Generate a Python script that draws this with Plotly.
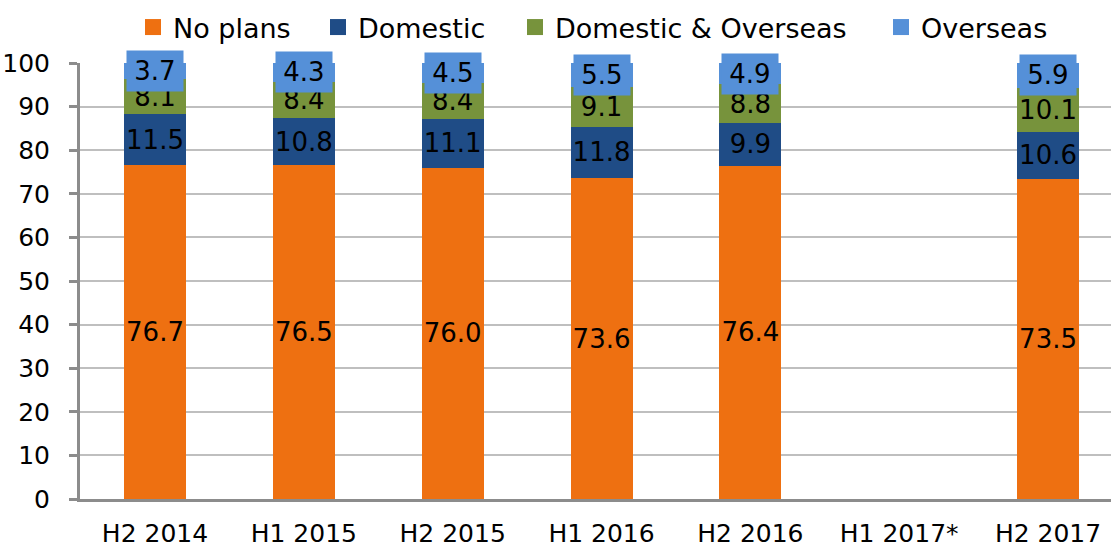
import plotly.graph_objects as go

categories = ["H2 2014", "H1 2015", "H2 2015", "H1 2016", "H2 2016", "H1 2017*", "H2 2017"]
no_plans = [76.7, 76.5, 76.0, 73.6, 76.4, None, 73.5]
domestic = [11.5, 10.8, 11.1, 11.8, 9.9, None, 10.6]
dom_over = [8.1, 8.4, 8.4, 9.1, 8.8, None, 10.1]
overseas = [3.7, 4.3, 4.5, 5.5, 4.9, None, 5.9]
y_ticks = [0, 10, 20, 30, 40, 50, 60, 70, 80, 90, 100]
series_names = ["No plans", "Domestic", "Domestic & Overseas", "Overseas"]

FONT = "DejaVu Sans"
FS_LBL = 26
FS_TICK = 25
FS_LEG = 27
colors = {"No plans": "#EE7011", "Domestic": "#1F4C86",
          "Domestic & Overseas": "#77933C", "Overseas": "#5590D8"}

W, H = 1111, 552
L, R, T, B = 80, 0, 63, 53
PW = W - L - R
PH = H - T - B

def fmt(v):
    return "" if v is None else f"{v:.1f}"

fig = go.Figure()
for name, vals, show_text in zip(series_names, [no_plans, domestic, dom_over, overseas],
                                 [True, True, True, False]):
    fig.add_trace(go.Bar(
        name=name, x=categories, y=vals, showlegend=False,
        marker=dict(color=colors[name], line=dict(width=0)),
        text=[fmt(v) for v in vals] if show_text else None,
        textposition="inside", insidetextanchor="middle", textangle=0,
        textfont=dict(family=FONT, size=FS_LBL, color="black"),
        cliponaxis=False,
    ))

# Legend entries (separate legends to mimic the reference spacing)
legend_centers_px = [153, 338, 535, 901]
legend_layout = {}
for i, (name, cx) in enumerate(zip(series_names, legend_centers_px)):
    key = "legend" if i == 0 else f"legend{i + 1}"
    fig.add_trace(go.Scatter(
        name=name, x=[None], y=[None], mode="markers",
        marker=dict(symbol="square", size=17, color=colors[name]),
        showlegend=True, legend=key,
    ))
    legend_layout[key] = dict(
        orientation="h", x=(cx - 20 - L) / PW, xanchor="left",
        y=1 + (T - 27.5) / PH, yanchor="middle",
        font=dict(family=FONT, size=FS_LEG, color="black"),
        bgcolor="rgba(0,0,0,0)", borderwidth=0,
    )

# Overseas labels with box background
for c, a, b, d, o in zip(categories, no_plans, domestic, dom_over, overseas):
    if o is None:
        continue
    fig.add_annotation(x=c, y=a + b + d + o / 2, text=fmt(o), showarrow=False,
                       font=dict(family=FONT, size=FS_LBL, color="black"),
                       bgcolor=colors["Overseas"], width=52, height=36, borderpad=2,
                       xanchor="center", yanchor="middle")

fig.update_layout(
    barmode="stack", bargap=0.583,
    width=W, height=H,
    margin=dict(l=L, r=R, t=T, b=B, autoexpand=False),
    paper_bgcolor="white", plot_bgcolor="white",
    font=dict(family=FONT, size=FS_TICK, color="black"),
    uniformtext=dict(mode="show", minsize=FS_LBL),
    showlegend=True,
    **legend_layout,
)
fig.update_xaxes(type="category", categoryorder="array", categoryarray=categories,
                 range=[-0.504, 6.423], showgrid=False, automargin=False,
                 showline=True, linecolor="#8C8C8C", linewidth=3,
                 ticks="", ticklabelstandoff=10,
                 tickfont=dict(family=FONT, size=FS_TICK, color="black"))
fig.update_yaxes(range=[0, 100], tickvals=y_ticks, showgrid=True, gridcolor="#BFBFBF", gridwidth=2,
                 showline=True, linecolor="#8C8C8C", linewidth=3, automargin=False,
                 ticks="outside", ticklen=8, tickwidth=3, tickcolor="#8C8C8C",
                 ticklabelstandoff=14,
                 tickfont=dict(family=FONT, size=FS_TICK, color="black"), zeroline=False)

fig.write_html("out.html", config={"displayModeBar": False},
               post_script="document.body.style.margin='0';")
